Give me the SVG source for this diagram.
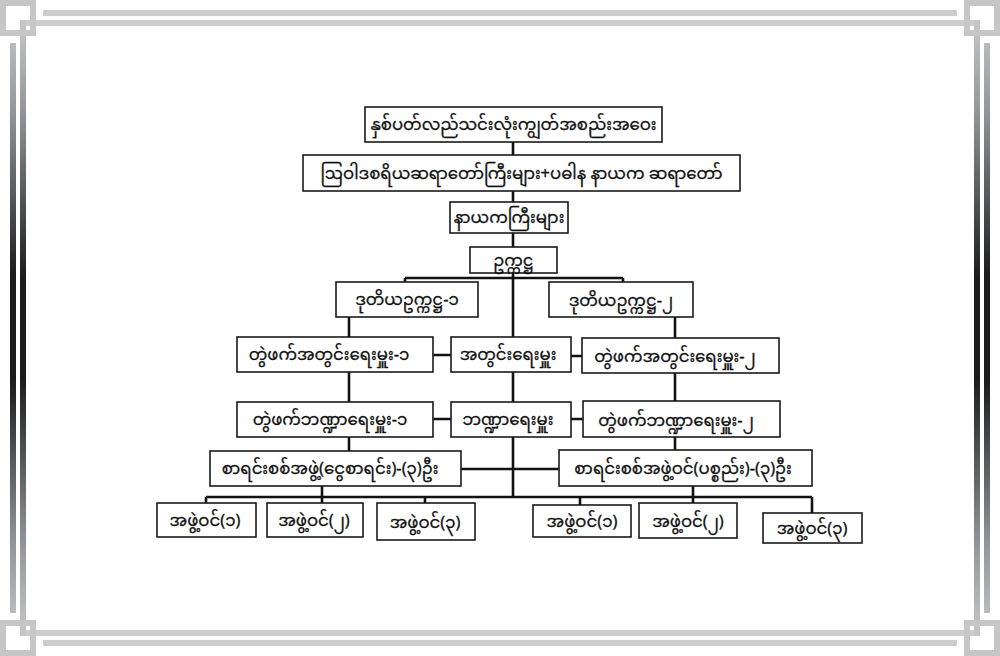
<svg xmlns="http://www.w3.org/2000/svg" width="1000" height="656" viewBox="0 0 1000 656">
<defs>
<linearGradient id="gv" gradientUnits="userSpaceOnUse" x1="0" y1="0" x2="0" y2="656">
<stop offset="0" stop-color="#d2d2d2"/><stop offset="0.18" stop-color="#8e9296"/><stop offset="0.42" stop-color="#1c1c1c"/><stop offset="0.58" stop-color="#1c1c1c"/><stop offset="0.82" stop-color="#8e9296"/><stop offset="1" stop-color="#d2d2d2"/>
</linearGradient>
<style>
.hl{fill:#cdcdcd}
.vl{fill:url(#gv)}
.sq{fill:none;stroke:#c6c6c6;stroke-width:6}
.box{fill:#fff;stroke:#1a1a1a;stroke-width:1.6}
.lbl{font-family:"Noto Sans Myanmar","Padauk","Myanmar Text","Pyidaungsu","Noto Sans",sans-serif;font-size:16.5px;fill:#111;stroke:#111;stroke-width:0.3;text-anchor:middle}
.con{fill:none;stroke:#111;stroke-width:2.6}
</style>
</defs>
<rect width="1000" height="656" fill="#fff"/>
<g id="frame">
<rect class="hl" x="23" y="20" width="954" height="6"/>
<rect class="hl" x="23" y="630" width="954" height="6"/>
<rect class="vl" x="20" y="20" width="6" height="616"/>
<rect class="vl" x="974" y="20" width="6" height="616"/>
<rect class="hl" x="43" y="10" width="914" height="6"/>
<rect class="hl" x="43" y="640" width="914" height="6"/>
<rect class="vl" x="10" y="43" width="6" height="570"/>
<rect class="vl" x="984" y="43" width="6" height="570"/>
<rect class="sq" x="3" y="3" width="30" height="30"/>
<rect class="sq" x="967" y="3" width="30" height="30"/>
<rect class="sq" x="3" y="623" width="30" height="30"/>
<rect class="sq" x="967" y="623" width="30" height="30"/>
</g>
<g id="connectors" class="con">
<path d="M513 142V497"/>
<path d="M405 278H623M405 278V282M623 278V282"/>
<path d="M349 317V451M675 317V451"/>
<path d="M433 355H451M571 356H582M433 419H451M571 419H583"/>
<path d="M461 469H559"/>
<path d="M322 486V503M693 486V503"/>
<path d="M206 497H812M206 497V503M425 497V503M580 497V505M812 497V513"/>
</g>
<g id="n1"><rect class="box" x="365" y="107" width="297" height="35"/><text class="lbl" x="513.5" y="130">နှစ်ပတ်လည်သင်းလုံးကျွတ်အစည်းအဝေး</text></g>
<g id="n2"><rect class="box" x="303" y="155" width="437" height="36"/><text class="lbl" x="521.5" y="179">ဩဝါဒစရိယဆရာတော်ကြီးများ+ပဓါန နာယက ဆရာတော်</text></g>
<g id="n3"><rect class="box" x="450" y="202" width="118" height="31"/><text class="lbl" x="509" y="223">နာယကကြီးများ</text></g>
<g id="n4"><rect class="box" x="470" y="247" width="87" height="26"/><text class="lbl" x="513.5" y="266">ဥက္ကဋ္ဌ</text></g>
<g id="n5"><rect class="box" x="336" y="282" width="142" height="35"/><text class="lbl" x="407" y="305">ဒုတိယဥက္ကဋ္ဌ-၁</text></g>
<g id="n6"><rect class="box" x="549" y="282" width="144" height="35"/><text class="lbl" x="621" y="306">ဒုတိယဥက္ကဋ္ဌ-၂</text></g>
<g id="n7"><rect class="box" x="237" y="337" width="196" height="35"/><text class="lbl" x="329" y="360">တွဲဖက်အတွင်းရေးမှူး-၁</text></g>
<g id="n8"><rect class="box" x="451" y="337" width="120" height="35"/><text class="lbl" x="508" y="360">အတွင်းရေးမှူး</text></g>
<g id="n9"><rect class="box" x="582" y="338" width="197" height="35"/><text class="lbl" x="675" y="362">တွဲဖက်အတွင်းရေးမှူး-၂</text></g>
<g id="n10"><rect class="box" x="237" y="402" width="196" height="35"/><text class="lbl" x="330" y="425">တွဲဖက်ဘဏ္ဍာရေးမှူး-၁</text></g>
<g id="n11"><rect class="box" x="451" y="402" width="120" height="35"/><text class="lbl" x="508" y="425">ဘဏ္ဍာရေးမှူး</text></g>
<g id="n12"><rect class="box" x="583" y="401" width="197" height="36"/><text class="lbl" x="676" y="426">တွဲဖက်ဘဏ္ဍာရေးမှူး-၂</text></g>
<g id="n13"><rect class="box" x="210" y="451" width="251" height="35"/><text class="lbl" x="330" y="474">စာရင်းစစ်အဖွဲ့(ငွေစာရင်း)-(၃)ဦး</text></g>
<g id="n14"><rect class="box" x="559" y="450" width="253" height="36"/><text class="lbl" x="683" y="474">စာရင်းစစ်အဖွဲ့ဝင်(ပစ္စည်း)-(၃)ဦး</text></g>
<g id="n15"><rect class="box" x="157" y="503" width="99" height="34"/><text class="lbl" x="205" y="526">အဖွဲ့ဝင်(၁)</text></g>
<g id="n16"><rect class="box" x="267" y="503" width="96" height="34"/><text class="lbl" x="314" y="526">အဖွဲ့ဝင်(၂)</text></g>
<g id="n17"><rect class="box" x="377" y="503" width="98" height="37"/><text class="lbl" x="425" y="528">အဖွဲ့ဝင်(၃)</text></g>
<g id="n18"><rect class="box" x="533" y="505" width="98" height="32"/><text class="lbl" x="582" y="527">အဖွဲ့ဝင်(၁)</text></g>
<g id="n19"><rect class="box" x="639" y="503" width="98" height="35"/><text class="lbl" x="688" y="527">အဖွဲ့ဝင်(၂)</text></g>
<g id="n20"><rect class="box" x="763" y="513" width="99" height="30"/><text class="lbl" x="812" y="534">အဖွဲ့ဝင်(၃)</text></g>
</svg>
